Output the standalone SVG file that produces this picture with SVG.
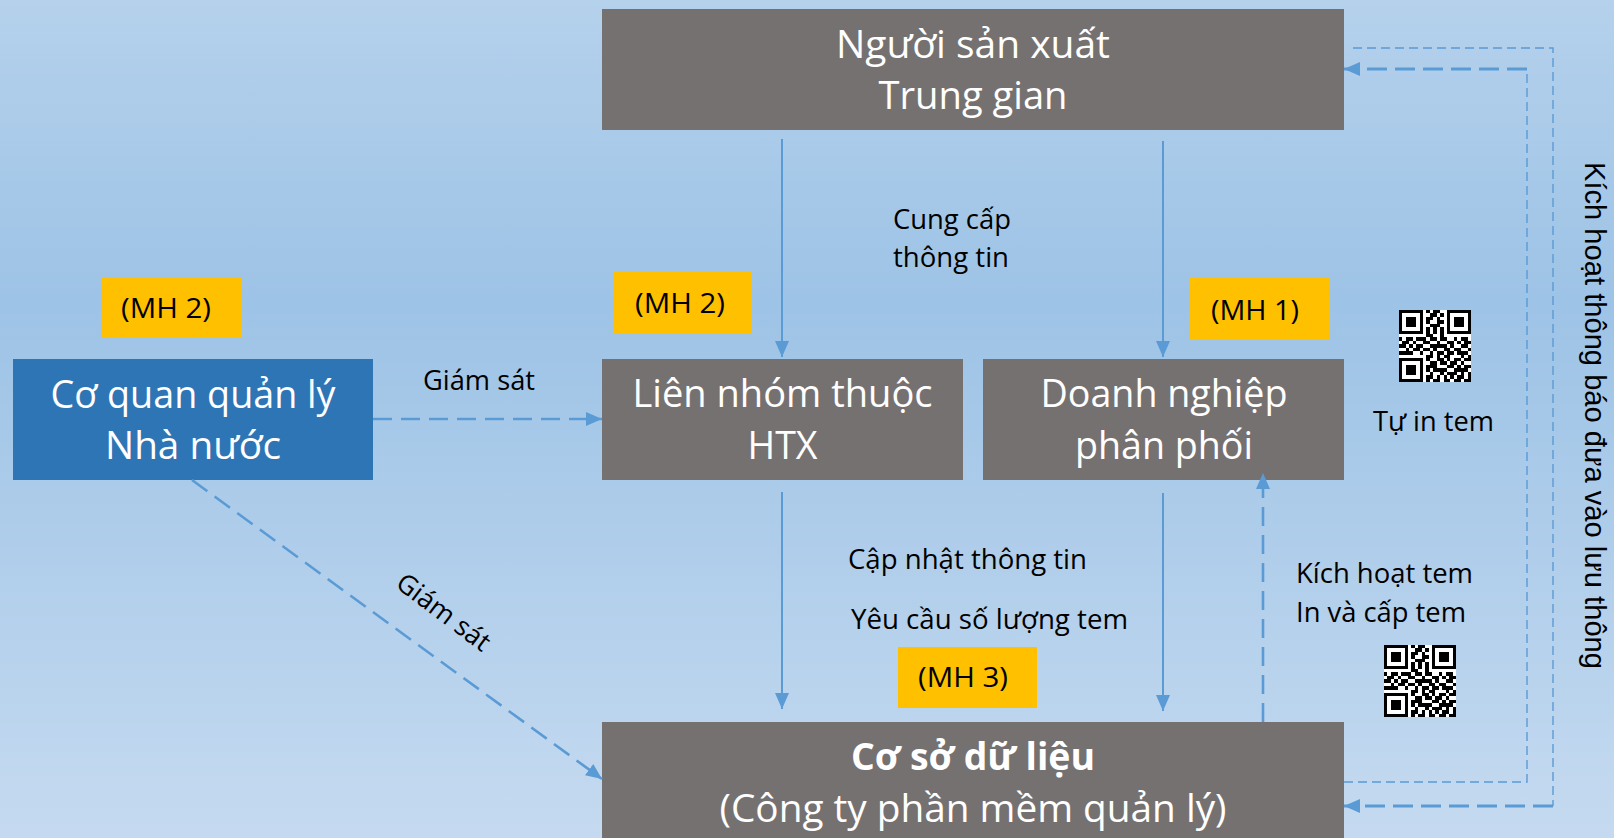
<svg xmlns="http://www.w3.org/2000/svg" xmlns:xlink="http://www.w3.org/1999/xlink" width="1614" height="838" viewBox="0 0 1614 838">
<defs>
<linearGradient id="bg" x1="0" y1="0" x2="0" y2="1">
<stop offset="0" stop-color="#b5d1ec"/>
<stop offset="0.36" stop-color="#9dc3e6"/>
<stop offset="1" stop-color="#c5daf0"/>
</linearGradient>
<marker id="ah" markerUnits="userSpaceOnUse" markerWidth="16" markerHeight="14" refX="16" refY="7" orient="auto">
<path d="M0,0 L16,7 L0,14 z" fill="#5b9bd5"/>
</marker>
<g id="qr">
<rect x="0" y="0" width="21" height="21" fill="#ffffff"/>
<path fill="#000000" d="M0 0h7v1h-7zM8 0h1v1h-1zM10 0h2v1h-2zM14 0h7v1h-7zM0 1h1v1h-1zM6 1h1v1h-1zM9 1h2v1h-2zM12 1h1v1h-1zM14 1h1v1h-1zM20 1h1v1h-1zM0 2h1v1h-1zM2 2h3v1h-3zM6 2h1v1h-1zM8 2h2v1h-2zM11 2h1v1h-1zM14 2h1v1h-1zM16 2h3v1h-3zM20 2h1v1h-1zM0 3h1v1h-1zM2 3h3v1h-3zM6 3h1v1h-1zM8 3h1v1h-1zM11 3h2v1h-2zM14 3h1v1h-1zM16 3h3v1h-3zM20 3h1v1h-1zM0 4h1v1h-1zM2 4h3v1h-3zM6 4h1v1h-1zM9 4h3v1h-3zM14 4h1v1h-1zM16 4h3v1h-3zM20 4h1v1h-1zM0 5h1v1h-1zM6 5h1v1h-1zM8 5h1v1h-1zM10 5h1v1h-1zM12 5h1v1h-1zM14 5h1v1h-1zM20 5h1v1h-1zM0 6h7v1h-7zM8 6h1v1h-1zM10 6h1v1h-1zM12 6h1v1h-1zM14 6h7v1h-7zM8 7h2v1h-2zM12 7h1v1h-1zM0 8h1v1h-1zM2 8h2v1h-2zM5 8h3v1h-3zM9 8h2v1h-2zM12 8h2v1h-2zM16 8h1v1h-1zM18 8h2v1h-2zM1 9h2v1h-2zM4 9h1v1h-1zM7 9h2v1h-2zM11 9h1v1h-1zM14 9h2v1h-2zM17 9h1v1h-1zM19 9h2v1h-2zM0 10h2v1h-2zM3 10h1v1h-1zM5 10h2v1h-2zM9 10h5v1h-5zM15 10h1v1h-1zM18 10h2v1h-2zM2 11h1v1h-1zM4 11h2v1h-2zM7 11h2v1h-2zM10 11h1v1h-1zM13 11h2v1h-2zM16 11h2v1h-2zM20 11h1v1h-1zM0 12h4v1h-4zM6 12h1v1h-1zM9 12h1v1h-1zM11 12h2v1h-2zM14 12h2v1h-2zM17 12h3v1h-3zM8 13h2v1h-2zM11 13h1v1h-1zM13 13h2v1h-2zM18 13h1v1h-1zM20 13h1v1h-1zM0 14h7v1h-7zM8 14h1v1h-1zM11 14h2v1h-2zM14 14h1v1h-1zM16 14h2v1h-2zM19 14h2v1h-2zM0 15h1v1h-1zM6 15h1v1h-1zM9 15h2v1h-2zM12 15h2v1h-2zM15 15h2v1h-2zM18 15h1v1h-1zM0 16h1v1h-1zM2 16h3v1h-3zM6 16h1v1h-1zM8 16h3v1h-3zM14 16h2v1h-2zM17 16h1v1h-1zM19 16h2v1h-2zM0 17h1v1h-1zM2 17h3v1h-3zM6 17h1v1h-1zM8 17h1v1h-1zM10 17h4v1h-4zM16 17h4v1h-4zM0 18h1v1h-1zM2 18h3v1h-3zM6 18h1v1h-1zM9 18h1v1h-1zM12 18h1v1h-1zM14 18h3v1h-3zM18 18h1v1h-1zM20 18h1v1h-1zM0 19h1v1h-1zM6 19h1v1h-1zM8 19h2v1h-2zM11 19h1v1h-1zM13 19h1v1h-1zM15 19h1v1h-1zM17 19h2v1h-2zM20 19h1v1h-1zM0 20h7v1h-7zM8 20h1v1h-1zM10 20h2v1h-2zM13 20h2v1h-2zM16 20h2v1h-2zM19 20h2v1h-2z"/>
</g>
</defs>
<style>
.grey{fill:#767171}
.blue{fill:#2e75b6}
.tag{fill:#ffc000}
.nt{font-family:"Open Sans","Noto Sans",sans-serif;font-size:38px;fill:#ffffff;text-anchor:middle}
.bold{font-weight:bold}
.lb{font-family:"Open Sans","Noto Sans",sans-serif;font-size:26.5px;fill:#000000}
.mid{text-anchor:middle}
.vt{font-family:"Liberation Sans",Arial,sans-serif;font-size:29.3px;fill:#000000}
.solid{fill:none;stroke:#5b9bd5;stroke-width:2}
.dash{fill:none;stroke:#5b9bd5;stroke-width:2.6;stroke-dasharray:19 9}
.dthick{fill:none;stroke:#5b9bd5;stroke-width:3;stroke-dasharray:20 8}
.dthin{fill:none;stroke:#5b9bd5;stroke-width:1.4;stroke-dasharray:9 5}
</style>
<rect x="0" y="0" width="1614" height="838" fill="url(#bg)"/>

<g id="node-nguoi-san-xuat">
<rect class="grey" x="602" y="9" width="742" height="121"/>
<text class="nt" x="973" y="58" textLength="274" lengthAdjust="spacingAndGlyphs">Người sản xuất</text>
<text class="nt" x="973" y="109" textLength="189" lengthAdjust="spacingAndGlyphs">Trung gian</text>
</g>

<g id="node-lien-nhom">
<rect class="grey" x="602" y="359" width="361" height="121"/>
<text class="nt" x="782.5" y="407" textLength="300" lengthAdjust="spacingAndGlyphs">Liên nhóm thuộc</text>
<text class="nt" x="782.5" y="459" textLength="70" lengthAdjust="spacingAndGlyphs">HTX</text>
</g>

<g id="node-doanh-nghiep">
<rect class="grey" x="983" y="359" width="361" height="121"/>
<text class="nt" x="1164" y="407" textLength="247" lengthAdjust="spacingAndGlyphs">Doanh nghiệp</text>
<text class="nt" x="1164" y="459" textLength="178" lengthAdjust="spacingAndGlyphs">phân phối</text>
</g>

<g id="node-co-quan">
<rect class="blue" x="13" y="359" width="360" height="121"/>
<text class="nt" x="193" y="408" textLength="285" lengthAdjust="spacingAndGlyphs">Cơ quan quản lý</text>
<text class="nt" x="193" y="459" textLength="176" lengthAdjust="spacingAndGlyphs">Nhà nước</text>
</g>

<g id="node-co-so-du-lieu">
<rect class="grey" x="602" y="722" width="742" height="130"/>
<text class="nt bold" x="973" y="770" textLength="244" lengthAdjust="spacingAndGlyphs">Cơ sở dữ liệu</text>
<text class="nt" x="973" y="822" textLength="507" lengthAdjust="spacingAndGlyphs">(Công ty phần mềm quản lý)</text>
</g>

<g id="tag-mh2-left">
<rect class="tag" x="102" y="278" width="139" height="60"/>
<text class="lb" x="121" y="318" textLength="90" lengthAdjust="spacingAndGlyphs">(MH 2)</text>
</g>
<g id="tag-mh2-mid">
<rect class="tag" x="614" y="272" width="138" height="61"/>
<text class="lb" x="635" y="313" textLength="90" lengthAdjust="spacingAndGlyphs">(MH 2)</text>
</g>
<g id="tag-mh1">
<rect class="tag" x="1190" y="278" width="139" height="61"/>
<text class="lb" x="1211" y="320" textLength="88" lengthAdjust="spacingAndGlyphs">(MH 1)</text>
</g>
<g id="tag-mh3">
<rect class="tag" x="898" y="647" width="139" height="61"/>
<text class="lb" x="918" y="687" textLength="90" lengthAdjust="spacingAndGlyphs">(MH 3)</text>
</g>

<g id="qr-tu-in">
<use xlink:href="#qr" href="#qr" transform="translate(1399,310) scale(3.4286)" shape-rendering="crispEdges"/>
</g>
<g id="qr-cap-tem">
<use xlink:href="#qr" href="#qr" transform="translate(1384,645) scale(3.4286)" shape-rendering="crispEdges"/>
</g>

<g id="connectors">
<path class="solid" d="M782,139 V357" marker-end="url(#ah)"/>
<path class="solid" d="M1163,141 V357" marker-end="url(#ah)"/>
<path class="solid" d="M782,492 V709" marker-end="url(#ah)"/>
<path class="solid" d="M1163,493 V711" marker-end="url(#ah)"/>
<path class="dash" d="M373,419 H602" marker-end="url(#ah)"/>
<path class="dash" d="M192,480 L602,779" marker-end="url(#ah)"/>
<path class="dash" d="M1263,722 V473" marker-end="url(#ah)"/>
<path class="dthin" d="M1353,48 H1553 V806"/>
<path class="dthick" d="M1553,806 H1344" marker-end="url(#ah)"/>
<path class="dthin" d="M1344,782 H1527 V69"/>
<path class="dthick" d="M1527,69 H1344" marker-end="url(#ah)"/>
</g>

<g id="labels">
<text class="lb mid" x="952" y="229" textLength="118" lengthAdjust="spacingAndGlyphs">Cung cấp</text>
<text class="lb mid" x="951" y="267" textLength="116" lengthAdjust="spacingAndGlyphs">thông tin</text>
<text class="lb" x="423" y="390" textLength="112" lengthAdjust="spacingAndGlyphs">Giám sát</text>
<text class="lb mid" transform="translate(443,613) rotate(37)" x="0" y="8" textLength="110" lengthAdjust="spacingAndGlyphs">Giám sát</text>
<text class="lb" x="848" y="569" textLength="239" lengthAdjust="spacingAndGlyphs">Cập nhật thông tin</text>
<text class="lb" x="851" y="629" textLength="277" lengthAdjust="spacingAndGlyphs">Yêu cầu số lượng tem</text>
<text class="lb" x="1296" y="583" textLength="177" lengthAdjust="spacingAndGlyphs">Kích hoạt tem</text>
<text class="lb" x="1296" y="622" textLength="170" lengthAdjust="spacingAndGlyphs">In và cấp tem</text>
<text class="lb" x="1373" y="431" textLength="121" lengthAdjust="spacingAndGlyphs">Tự in tem</text>
<text class="vt" transform="translate(1585,162) rotate(90)" x="0" y="0" textLength="507" lengthAdjust="spacingAndGlyphs">Kích hoạt thông báo đưa vào lưu thông</text>
</g>
</svg>
